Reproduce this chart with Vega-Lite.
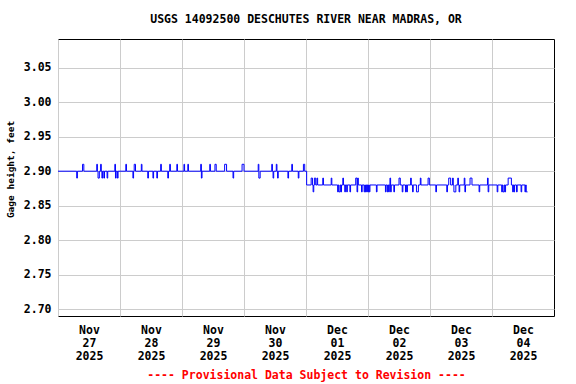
{
  "$schema": "https://vega.github.io/schema/vega-lite/v6.json",
  "width": 496,
  "height": 277,
  "autosize": {"type": "none"},
  "padding": {"left": 58, "top": 39, "right": 22, "bottom": 68},
  "background": "white",
  "title": {"text": "USGS 14092500 DESCHUTES RIVER NEAR MADRAS, OR", "font": "DejaVu Sans Mono", "fontSize": 11.5, "fontWeight": "bold", "color": "black", "anchor": "middle", "offset": 14},
  "config": {
    "view": {"stroke": "black", "strokeWidth": 1},
    "axis": {"labelFont": "DejaVu Sans Mono", "labelFontSize": 11.5, "labelFontWeight": "bold", "labelColor": "black", "titleFont": "DejaVu Sans Mono", "titleFontWeight": "bold", "gridColor": "#cccccc", "gridWidth": 1, "gridOpacity": 1, "ticks": false, "domain": false}
  },
  "data": {"values": [
    {"t": "2025-11-27T00:00:00Z", "v": 2.90},
    {"t": "2025-11-27T07:15:00Z", "v": 2.89}, {"t": "2025-11-27T07:30:00Z", "v": 2.90},
    {"t": "2025-11-27T09:30:00Z", "v": 2.91}, {"t": "2025-11-27T10:00:00Z", "v": 2.90},
    {"t": "2025-11-27T15:00:00Z", "v": 2.91}, {"t": "2025-11-27T15:15:00Z", "v": 2.90},
    {"t": "2025-11-27T15:30:00Z", "v": 2.89}, {"t": "2025-11-27T16:00:00Z", "v": 2.90},
    {"t": "2025-11-27T16:30:00Z", "v": 2.91}, {"t": "2025-11-27T16:45:00Z", "v": 2.90},
    {"t": "2025-11-27T17:00:00Z", "v": 2.89}, {"t": "2025-11-27T17:15:00Z", "v": 2.90},
    {"t": "2025-11-27T17:45:00Z", "v": 2.89}, {"t": "2025-11-27T18:00:00Z", "v": 2.90},
    {"t": "2025-11-27T19:00:00Z", "v": 2.89}, {"t": "2025-11-27T19:15:00Z", "v": 2.90},
    {"t": "2025-11-27T22:00:00Z", "v": 2.91}, {"t": "2025-11-27T22:15:00Z", "v": 2.89}, {"t": "2025-11-27T22:30:00Z", "v": 2.90},
    {"t": "2025-11-27T23:00:00Z", "v": 2.89}, {"t": "2025-11-27T23:15:00Z", "v": 2.90},
    {"t": "2025-11-28T02:15:00Z", "v": 2.91}, {"t": "2025-11-28T02:30:00Z", "v": 2.90},
    {"t": "2025-11-28T05:00:00Z", "v": 2.89}, {"t": "2025-11-28T05:15:00Z", "v": 2.90},
    {"t": "2025-11-28T05:30:00Z", "v": 2.91}, {"t": "2025-11-28T06:00:00Z", "v": 2.90},
    {"t": "2025-11-28T08:15:00Z", "v": 2.91}, {"t": "2025-11-28T08:30:00Z", "v": 2.90},
    {"t": "2025-11-28T10:45:00Z", "v": 2.89}, {"t": "2025-11-28T11:00:00Z", "v": 2.90},
    {"t": "2025-11-28T12:45:00Z", "v": 2.89}, {"t": "2025-11-28T13:00:00Z", "v": 2.90},
    {"t": "2025-11-28T14:15:00Z", "v": 2.89}, {"t": "2025-11-28T14:30:00Z", "v": 2.90},
    {"t": "2025-11-28T15:45:00Z", "v": 2.91}, {"t": "2025-11-28T16:00:00Z", "v": 2.90},
    {"t": "2025-11-28T18:30:00Z", "v": 2.89}, {"t": "2025-11-28T18:45:00Z", "v": 2.90},
    {"t": "2025-11-28T19:15:00Z", "v": 2.91}, {"t": "2025-11-28T19:30:00Z", "v": 2.90},
    {"t": "2025-11-28T22:00:00Z", "v": 2.91}, {"t": "2025-11-28T22:15:00Z", "v": 2.90},
    {"t": "2025-11-29T00:45:00Z", "v": 2.91}, {"t": "2025-11-29T01:00:00Z", "v": 2.90},
    {"t": "2025-11-29T02:15:00Z", "v": 2.91}, {"t": "2025-11-29T02:30:00Z", "v": 2.90},
    {"t": "2025-11-29T07:15:00Z", "v": 2.91}, {"t": "2025-11-29T07:30:00Z", "v": 2.89}, {"t": "2025-11-29T07:45:00Z", "v": 2.90},
    {"t": "2025-11-29T10:45:00Z", "v": 2.91}, {"t": "2025-11-29T11:00:00Z", "v": 2.90},
    {"t": "2025-11-29T12:45:00Z", "v": 2.91}, {"t": "2025-11-29T13:15:00Z", "v": 2.90},
    {"t": "2025-11-29T16:30:00Z", "v": 2.91}, {"t": "2025-11-29T17:15:00Z", "v": 2.90},
    {"t": "2025-11-29T19:45:00Z", "v": 2.89}, {"t": "2025-11-29T20:00:00Z", "v": 2.90},
    {"t": "2025-11-29T23:15:00Z", "v": 2.91}, {"t": "2025-11-30T00:00:00Z", "v": 2.90},
    {"t": "2025-11-30T05:30:00Z", "v": 2.91}, {"t": "2025-11-30T05:45:00Z", "v": 2.89}, {"t": "2025-11-30T06:15:00Z", "v": 2.90},
    {"t": "2025-11-30T10:45:00Z", "v": 2.91}, {"t": "2025-11-30T11:00:00Z", "v": 2.90},
    {"t": "2025-11-30T11:15:00Z", "v": 2.89}, {"t": "2025-11-30T11:30:00Z", "v": 2.90},
    {"t": "2025-11-30T12:30:00Z", "v": 2.91}, {"t": "2025-11-30T12:45:00Z", "v": 2.90},
    {"t": "2025-11-30T13:00:00Z", "v": 2.89}, {"t": "2025-11-30T13:15:00Z", "v": 2.90},
    {"t": "2025-11-30T17:00:00Z", "v": 2.89}, {"t": "2025-11-30T17:15:00Z", "v": 2.90},
    {"t": "2025-11-30T18:30:00Z", "v": 2.91}, {"t": "2025-11-30T18:45:00Z", "v": 2.90},
    {"t": "2025-11-30T21:00:00Z", "v": 2.89}, {"t": "2025-11-30T21:15:00Z", "v": 2.90},
    {"t": "2025-11-30T23:00:00Z", "v": 2.91}, {"t": "2025-11-30T23:30:00Z", "v": 2.90},
    {"t": "2025-12-01T00:15:00Z", "v": 2.88},
    {"t": "2025-12-01T02:00:00Z", "v": 2.89}, {"t": "2025-12-01T02:30:00Z", "v": 2.88},
    {"t": "2025-12-01T02:45:00Z", "v": 2.87}, {"t": "2025-12-01T03:00:00Z", "v": 2.88},
    {"t": "2025-12-01T03:15:00Z", "v": 2.89}, {"t": "2025-12-01T03:45:00Z", "v": 2.88},
    {"t": "2025-12-01T04:15:00Z", "v": 2.89}, {"t": "2025-12-01T04:30:00Z", "v": 2.88},
    {"t": "2025-12-01T06:30:00Z", "v": 2.89}, {"t": "2025-12-01T06:45:00Z", "v": 2.88},
    {"t": "2025-12-01T09:45:00Z", "v": 2.89}, {"t": "2025-12-01T10:00:00Z", "v": 2.88},
    {"t": "2025-12-01T12:15:00Z", "v": 2.87}, {"t": "2025-12-01T12:30:00Z", "v": 2.88}, {"t": "2025-12-01T12:45:00Z", "v": 2.87}, {"t": "2025-12-01T13:15:00Z", "v": 2.88}, {"t": "2025-12-01T13:30:00Z", "v": 2.87}, {"t": "2025-12-01T13:45:00Z", "v": 2.88},
    {"t": "2025-12-01T14:15:00Z", "v": 2.89}, {"t": "2025-12-01T14:30:00Z", "v": 2.88},
    {"t": "2025-12-01T15:00:00Z", "v": 2.87}, {"t": "2025-12-01T15:15:00Z", "v": 2.88},
    {"t": "2025-12-01T15:45:00Z", "v": 2.87}, {"t": "2025-12-01T16:00:00Z", "v": 2.88},
    {"t": "2025-12-01T17:00:00Z", "v": 2.87}, {"t": "2025-12-01T17:15:00Z", "v": 2.88},
    {"t": "2025-12-01T19:15:00Z", "v": 2.89}, {"t": "2025-12-01T19:45:00Z", "v": 2.87}, {"t": "2025-12-01T20:00:00Z", "v": 2.89}, {"t": "2025-12-01T20:15:00Z", "v": 2.88},
    {"t": "2025-12-01T21:30:00Z", "v": 2.87}, {"t": "2025-12-01T21:45:00Z", "v": 2.88},
    {"t": "2025-12-01T22:30:00Z", "v": 2.87}, {"t": "2025-12-01T22:45:00Z", "v": 2.88}, {"t": "2025-12-01T23:00:00Z", "v": 2.87}, {"t": "2025-12-01T23:15:00Z", "v": 2.88}, {"t": "2025-12-01T23:30:00Z", "v": 2.87}, {"t": "2025-12-01T23:45:00Z", "v": 2.88},
    {"t": "2025-12-02T00:00:00Z", "v": 2.87}, {"t": "2025-12-02T00:15:00Z", "v": 2.88}, {"t": "2025-12-02T00:30:00Z", "v": 2.87}, {"t": "2025-12-02T00:45:00Z", "v": 2.88},
    {"t": "2025-12-02T03:15:00Z", "v": 2.87}, {"t": "2025-12-02T03:30:00Z", "v": 2.88},
    {"t": "2025-12-02T06:45:00Z", "v": 2.87}, {"t": "2025-12-02T07:00:00Z", "v": 2.88}, {"t": "2025-12-02T07:30:00Z", "v": 2.87}, {"t": "2025-12-02T07:45:00Z", "v": 2.88}, {"t": "2025-12-02T08:00:00Z", "v": 2.87}, {"t": "2025-12-02T08:15:00Z", "v": 2.88}, {"t": "2025-12-02T08:30:00Z", "v": 2.89}, {"t": "2025-12-02T08:45:00Z", "v": 2.87}, {"t": "2025-12-02T09:00:00Z", "v": 2.88},
    {"t": "2025-12-02T10:00:00Z", "v": 2.87}, {"t": "2025-12-02T10:15:00Z", "v": 2.88},
    {"t": "2025-12-02T12:00:00Z", "v": 2.89}, {"t": "2025-12-02T12:30:00Z", "v": 2.88},
    {"t": "2025-12-02T13:15:00Z", "v": 2.87}, {"t": "2025-12-02T13:30:00Z", "v": 2.88},
    {"t": "2025-12-02T14:30:00Z", "v": 2.87}, {"t": "2025-12-02T14:45:00Z", "v": 2.88}, {"t": "2025-12-02T15:00:00Z", "v": 2.87}, {"t": "2025-12-02T15:15:00Z", "v": 2.88},
    {"t": "2025-12-02T16:30:00Z", "v": 2.89}, {"t": "2025-12-02T16:45:00Z", "v": 2.88},
    {"t": "2025-12-02T17:15:00Z", "v": 2.87}, {"t": "2025-12-02T17:30:00Z", "v": 2.88},
    {"t": "2025-12-02T18:45:00Z", "v": 2.87}, {"t": "2025-12-02T19:30:00Z", "v": 2.88},
    {"t": "2025-12-02T20:15:00Z", "v": 2.89}, {"t": "2025-12-02T20:30:00Z", "v": 2.88},
    {"t": "2025-12-02T23:15:00Z", "v": 2.89}, {"t": "2025-12-02T23:45:00Z", "v": 2.88},
    {"t": "2025-12-03T02:15:00Z", "v": 2.87}, {"t": "2025-12-03T02:30:00Z", "v": 2.88},
    {"t": "2025-12-03T06:30:00Z", "v": 2.87}, {"t": "2025-12-03T06:45:00Z", "v": 2.88},
    {"t": "2025-12-03T07:15:00Z", "v": 2.89}, {"t": "2025-12-03T08:00:00Z", "v": 2.88},
    {"t": "2025-12-03T08:45:00Z", "v": 2.89}, {"t": "2025-12-03T09:00:00Z", "v": 2.88},
    {"t": "2025-12-03T09:15:00Z", "v": 2.87}, {"t": "2025-12-03T10:00:00Z", "v": 2.88},
    {"t": "2025-12-03T10:45:00Z", "v": 2.89}, {"t": "2025-12-03T11:00:00Z", "v": 2.88},
    {"t": "2025-12-03T11:15:00Z", "v": 2.87}, {"t": "2025-12-03T11:30:00Z", "v": 2.88},
    {"t": "2025-12-03T13:15:00Z", "v": 2.89}, {"t": "2025-12-03T13:30:00Z", "v": 2.87}, {"t": "2025-12-03T13:45:00Z", "v": 2.88},
    {"t": "2025-12-03T15:30:00Z", "v": 2.89}, {"t": "2025-12-03T16:15:00Z", "v": 2.88},
    {"t": "2025-12-03T19:00:00Z", "v": 2.87}, {"t": "2025-12-03T19:15:00Z", "v": 2.88},
    {"t": "2025-12-03T22:15:00Z", "v": 2.89}, {"t": "2025-12-03T22:30:00Z", "v": 2.87}, {"t": "2025-12-03T22:45:00Z", "v": 2.88},
    {"t": "2025-12-04T02:00:00Z", "v": 2.87}, {"t": "2025-12-04T02:15:00Z", "v": 2.88},
    {"t": "2025-12-04T03:45:00Z", "v": 2.87}, {"t": "2025-12-04T04:00:00Z", "v": 2.88}, {"t": "2025-12-04T04:15:00Z", "v": 2.87}, {"t": "2025-12-04T04:45:00Z", "v": 2.88}, {"t": "2025-12-04T05:00:00Z", "v": 2.87}, {"t": "2025-12-04T05:15:00Z", "v": 2.88},
    {"t": "2025-12-04T06:15:00Z", "v": 2.89}, {"t": "2025-12-04T07:30:00Z", "v": 2.88},
    {"t": "2025-12-04T08:00:00Z", "v": 2.87}, {"t": "2025-12-04T08:15:00Z", "v": 2.88}, {"t": "2025-12-04T08:30:00Z", "v": 2.87}, {"t": "2025-12-04T08:45:00Z", "v": 2.88},
    {"t": "2025-12-04T09:30:00Z", "v": 2.87}, {"t": "2025-12-04T09:45:00Z", "v": 2.88},
    {"t": "2025-12-04T11:15:00Z", "v": 2.87}, {"t": "2025-12-04T11:30:00Z", "v": 2.88},
    {"t": "2025-12-04T12:45:00Z", "v": 2.87}, {"t": "2025-12-04T13:00:00Z", "v": 2.88}, {"t": "2025-12-04T13:15:00Z", "v": 2.87}, {"t": "2025-12-04T13:45:00Z", "v": 2.87}
  ]},
  "mark": {"type": "line", "interpolate": "step-after", "color": "#0000ff", "strokeWidth": 1, "clip": true},
  "encoding": {
    "x": {
      "field": "t", "type": "temporal",
      "scale": {"type": "utc", "domain": [{"year": 2025, "month": 11, "date": 27, "utc": true}, {"year": 2025, "month": 12, "date": 5, "utc": true}]},
      "axis": {
        "values": [
          {"year": 2025, "month": 11, "date": 27, "utc": true},
          {"year": 2025, "month": 11, "date": 28, "utc": true},
          {"year": 2025, "month": 11, "date": 29, "utc": true},
          {"year": 2025, "month": 11, "date": 30, "utc": true},
          {"year": 2025, "month": 12, "date": 1, "utc": true},
          {"year": 2025, "month": 12, "date": 2, "utc": true},
          {"year": 2025, "month": 12, "date": 3, "utc": true},
          {"year": 2025, "month": 12, "date": 4, "utc": true}
        ],
        "labelExpr": "[utcFormat(datum.value, '%b'), utcFormat(datum.value, '%d'), utcFormat(datum.value, '%Y')]",
        "labelOffset": 31,
        "labelAlign": "center",
        "labelBaseline": "top",
        "labelLineHeight": 13,
        "labelPadding": 8,
        "labelBound": false,
        "labelFlush": false,
        "labelOverlap": false,
        "grid": true,
        "title": "---- Provisional Data Subject to Revision ----",
        "titleColor": "#ff0000",
        "titleFontSize": 11.5,
        "titleY": 59,
        "titleBaseline": "middle",
        "titleAlign": "center"
      }
    },
    "y": {
      "field": "v", "type": "quantitative",
      "scale": {"domain": [2.69, 3.0917], "nice": false, "zero": false},
      "axis": {
        "values": [2.70, 2.75, 2.80, 2.85, 2.90, 2.95, 3.00, 3.05],
        "format": ".2f",
        "labelPadding": 7,
        "grid": true,
        "title": "Gage height, feet",
        "titleColor": "black",
        "titleFontSize": 9.5,
        "titleAngle": -90,
        "titleX": -48,
        "titleY": 130,
        "titleAlign": "center",
        "titleBaseline": "middle"
      }
    }
  }
}
